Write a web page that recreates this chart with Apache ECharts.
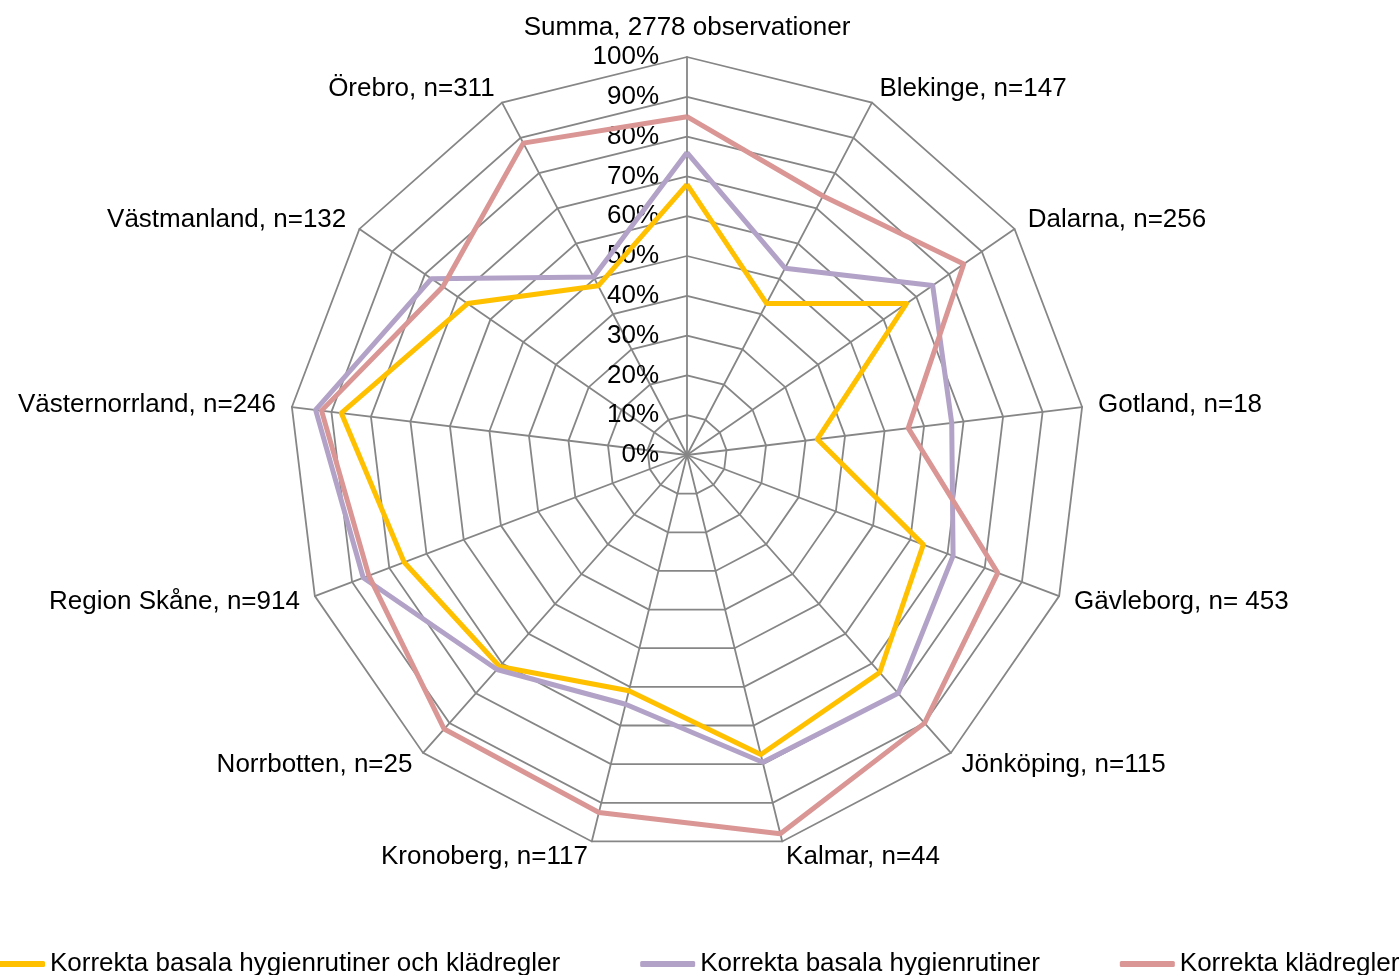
<!DOCTYPE html>
<html>
<head>
<meta charset="utf-8">
<script src="https://cdn.jsdelivr.net/npm/echarts@6/dist/echarts.min.js"></script>
<style>
  html, body { margin: 0; padding: 0; background: #fff; }
  #chart { width: 1400px; height: 975px; }
</style>
</head>
<body>
<div id="chart"></div>
<script>
// categories in reading order, clockwise from the top
const categories = [
  "Summa, 2778 observationer",
  "Blekinge, n=147",
  "Dalarna, n=256",
  "Gotland, n=18",
  "Gävleborg, n= 453",
  "Jönköping, n=115",
  "Kalmar, n=44",
  "Kronoberg, n=117",
  "Norrbotten, n=25",
  "Region Skåne, n=914",
  "Västernorrland, n=246",
  "Västmanland, n=132",
  "Örebro, n=311"
];

const seriesNames = [
  "Korrekta basala hygienrutiner och klädregler",
  "Korrekta basala hygienrutiner",
  "Korrekta klädregler"
];

// percent values, same order as categories
const basalaOchKlad = [68, 43, 67, 33, 63.5, 73, 77.5, 61, 71, 76, 87.5, 67, 48];
const basala = [76, 53, 75, 67, 71.5, 80, 79.5, 64.5, 72, 87, 94, 78, 50.5];
const kladregler = [85, 73.5, 84.5, 56, 83.5, 90, 98, 92.5, 92, 85.5, 92.5, 74.5, 88.5];

const colors = ["#FFC000", "#B3A2C7", "#D99694"];

// echarts places radar indicators counter-clockwise, so keep the first and reverse the rest
const order = [0].concat(categories.map((_, i) => i).slice(1).reverse());
const reorder = (arr) => order.map((i) => arr[i]);

const font = "Liberation Sans, Arial, sans-serif";

const chart = echarts.init(document.getElementById("chart"));

const indicator = reorder(categories).map((name, i) => {
  const item = { name: name, min: 0, max: 100 };
  if (i === 0) {
    item.axisLabel = {
      show: true,
      formatter: "{value}%",
      color: "#000",
      fontSize: 26,
      fontFamily: font,
      margin: 28
    };
  }
  return item;
});

const option = {
  animation: false,
  color: colors,
  legend: {
    left: -15,
    top: 946,
    width: 1440,
    itemGap: 80,
    itemWidth: 55,
    itemHeight: 6,
    icon: "roundRect",
    textStyle: { fontSize: 26, fontFamily: font, color: "#000" },
    data: seriesNames
  },
  radar: {
    center: [687, 455],
    radius: 398,
    startAngle: 90,
    shape: "polygon",
    splitNumber: 10,
    indicator: indicator,
    nameGap: 16,
    axisName: { color: "#000", fontSize: 26, fontFamily: font },
    axisLine: { lineStyle: { color: "#868686", width: 1.8 } },
    splitLine: { lineStyle: { color: "#868686", width: 1.8 } },
    splitArea: { show: false },
    axisTick: { show: false },
    axisLabel: { show: false }
  },
  series: [
    {
      type: "radar",
      symbol: "none",
      data: [basalaOchKlad, basala, kladregler].map((vals, k) => ({
        name: seriesNames[k],
        value: reorder(vals),
        lineStyle: { color: colors[k], width: 5 },
        itemStyle: { color: colors[k] }
      }))
    }
  ]
};

chart.setOption(option);
</script>
</body>
</html>
